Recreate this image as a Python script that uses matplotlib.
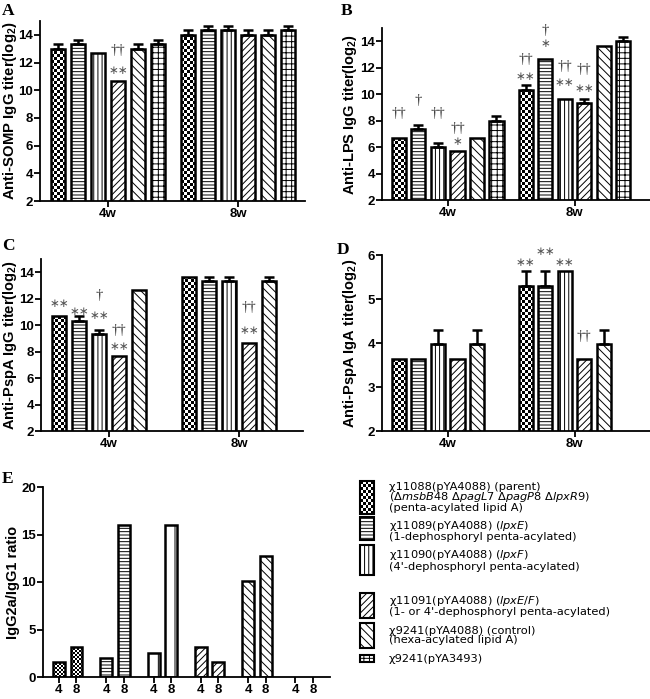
import numpy as np
import matplotlib
matplotlib.use("Agg")
import matplotlib.pyplot as plt
from matplotlib.patches import Rectangle

plt.rcParams.update({
    "font.family": "Liberation Sans",
    "mathtext.fontset": "custom",
    "mathtext.rm": "DejaVu Sans",
    "mathtext.it": "DejaVu Sans:style=oblique",
    "mathtext.bf": "Liberation Sans:weight=bold",
    "hatch.linewidth": 0.7,
    "axes.linewidth": 1.3,
})

# --- data ---
weeks = ["4w", "8w"]
somp_4w = [13.0, 13.33, 12.67, 10.67, 13.0, 13.33]
somp_4w_err = [0.33, 0.33, 0.0, 0.0, 0.33, 0.33]
somp_8w = [14.0, 14.33, 14.33, 14.0, 14.0, 14.33]
somp_8w_err = [0.33, 0.33, 0.33, 0.33, 0.33, 0.33]

lps_4w = [6.67, 7.33, 6.0, 5.67, 6.67, 8.0]
lps_4w_err = [0.0, 0.33, 0.33, 0.0, 0.0, 0.33]
lps_8w = [10.33, 12.67, 9.67, 9.33, 13.67, 14.0]
lps_8w_err = [0.33, 0.0, 0.0, 0.33, 0.0, 0.33]

pspa_4w = [10.67, 10.33, 9.33, 7.67, 12.67]
pspa_4w_err = [0.0, 0.33, 0.33, 0.0, 0.0]
pspa_8w = [13.67, 13.33, 13.33, 8.67, 13.33]
pspa_8w_err = [0.0, 0.33, 0.33, 0.0, 0.33]

iga_4w = [3.63, 3.63, 3.97, 3.63, 3.97]
iga_4w_err = [0.0, 0.0, 0.33, 0.0, 0.33]
iga_8w = [5.3, 5.3, 5.63, 3.63, 3.97]
iga_8w_err = [0.33, 0.33, 0.0, 0.0, 0.33]

ratio_weeks = ["4", "8"]
ratio_4 = [1.6, 2.0, 2.5, 3.2, 10.1, 0.0]
ratio_8 = [3.2, 16.0, 16.0, 1.6, 12.7, 0.0]

# significance marks: (week index, bar index, text, y)
ann_somp = [(0, 3, "∗∗", 11.45), (0, 3, "††", 12.9)]
ann_lps = [(0, 0, "††", 8.55), (0, 1, "†", 9.5), (0, 2, "††", 8.55),
           (0, 3, "††", 7.4), (0, 3, "∗", 6.4),
           (1, 0, "††", 12.6), (1, 0, "∗∗", 11.3), (1, 1, "†", 14.8), (1, 1, "∗", 13.8),
           (1, 2, "††", 12.1), (1, 2, "∗∗", 10.9), (1, 3, "††", 11.9), (1, 3, "∗∗", 10.4)]
ann_pspa = [(0, 0, "∗∗", 11.66), (0, 1, "∗∗", 11.06), (0, 2, "†", 12.26), (0, 2, "∗∗", 10.7),
            (0, 3, "††", 9.6), (0, 3, "∗∗", 8.4), (1, 3, "††", 11.3), (1, 3, "∗∗", 9.6)]
ann_iga = [(1, 0, "∗∗", 5.82), (1, 1, "∗∗", 6.07), (1, 2, "∗∗", 5.82), (1, 3, "††", 4.14)]

legend_labels = [
    "χ11088(pYA4088) (parent)\n"
    "(Δ$\\mathit{msbB48}$ Δ$\\mathit{pagL7}$ Δ$\\mathit{pagP8}$ Δ$\\mathit{lpxR9}$)\n"
    "(penta-acylated lipid A)",
    "χ11089(pYA4088) ($\\mathit{lpxE}$)\n(1-dephosphoryl penta-acylated)",
    "χ11090(pYA4088) ($\\mathit{lpxF}$)\n(4'-dephosphoryl penta-acylated)",
    "χ11091(pYA4088) ($\\mathit{lpxE/F}$)\n(1- or 4'-dephosphoryl penta-acylated)",
    "χ9241(pYA4088) (control)\n(hexa-acylated lipid A)",
    "χ9241(pYA3493)",
]

hatches = [None, "-----", "||||", "/////", "\\\\\\\\", "+++"]
ratio_hatches = [None, "-----", "|", "/////", "\\\\\\\\", "+++"]

W, H = 650, 699
fig = plt.figure(figsize=(W / 100, H / 100), dpi=100)


def px_axes(left, top, right, bottom):
    return fig.add_axes([left / W, 1 - bottom / H, (right - left) / W, (bottom - top) / H])


def checker(ax, bar, cell=3.0):
    x0, y0 = bar.get_x(), bar.get_y()
    x1, y1 = x0 + bar.get_width(), y0 + bar.get_height()
    lo, hi = sorted(ax.get_ylim())
    y0, y1 = max(min(y0, y1), lo), min(max(y0, y1), hi)
    (a, b), (c, d) = ax.transData.transform([(x0, y0), (x1, y1)])
    nx = max(1, int(round(abs(c - a) / cell)))
    ny = max(1, int(round(abs(d - b) / cell)))
    img = np.indices((ny, nx)).sum(axis=0) % 2
    im = ax.imshow(img, cmap="gray", vmin=0, vmax=1, extent=(x0, x1, y0, y1),
                   aspect="auto", interpolation="nearest", zorder=1.5)
    im.set_clip_path(bar)


def style_axes(ax, label_x):
    for s in ("top", "right"):
        ax.spines[s].set_visible(False)
    ax.tick_params(axis="both", width=1.3, length=4, labelsize=9.5, pad=1)
    for t in ax.get_xticklabels() + ax.get_yticklabels():
        t.set_fontweight("bold")
    # right edge of the rotated label, in pixels from the figure's left edge
    x0 = ax.get_position().x0 * W
    ax.yaxis.set_label_coords((label_x - x0) / (ax.get_position().width * W), 0.5)


def titer_panel(ax, groups, ann, ylim, yticks, ylabel, xlim, label_x, label_size=10.5,
                gap=6.5):
    ax.set_xlim(*xlim)
    ax.set_ylim(*ylim)
    for g, (vals, errs) in enumerate(groups):
        xs = np.arange(len(vals)) + g * gap
        bars = ax.bar(xs, vals, width=0.72, facecolor="none", edgecolor="black",
                      linewidth=1.8, zorder=2)
        for i, b in enumerate(bars):
            if hatches[i]:
                b.set_hatch(hatches[i])
            else:
                checker(ax, b)
        errs = np.array(errs)
        m = errs > 0
        ax.errorbar(xs[m], np.array(vals)[m], yerr=[np.zeros(m.sum()), errs[m]], fmt="none",
                    ecolor="black", elinewidth=1.8, capsize=3.5, capthick=1.8, zorder=3)
    for g, i, txt, y in ann:
        if "∗" in txt:
            ax.text(i + g * gap, y, txt, ha="center", va="center", fontsize=8.5,
                    family="DejaVu Sans", color="#555555")
        else:
            ax.text(i + g * gap, y, txt, ha="center", va="center", fontsize=10.5,
                    family="Liberation Serif", color="#333333")
    ax.set_xticks([2.5, 2.5 + gap])
    ax.set_xticklabels(weeks)
    ax.set_yticks(yticks)
    ax.set_ylabel(ylabel, fontsize=label_size, fontweight="bold")
    style_axes(ax, label_x)
    ax.set_xlim(*xlim)
    ax.set_ylim(*ylim)


axA = px_axes(40, 21, 305, 201)
titer_panel(axA, [(somp_4w, somp_4w_err), (somp_8w, somp_8w_err)], ann_somp, (2, 15),
            range(2, 15, 2), "Anti-SOMP IgG titer(log$_\\mathbf{2}$)", (-0.9, 12.35), 19,
            label_size=10.7)

axB = px_axes(382, 28, 650, 200)
titer_panel(axB, [(lps_4w, lps_4w_err), (lps_8w, lps_8w_err)], ann_lps, (2, 15),
            range(2, 15, 2), "Anti-LPS IgG titer(log$_\\mathbf{2}$)", (-0.87, 12.87), 359)

axC = px_axes(41, 259, 303, 431)
titer_panel(axC, [(pspa_4w, pspa_4w_err), (pspa_8w, pspa_8w_err)], ann_pspa, (2, 15),
            range(2, 15, 2), "Anti-PspA IgG titer(log$_\\mathbf{2}$)", (-0.9, 12.2), 19)

axD = px_axes(382, 255, 650, 431)
titer_panel(axD, [(iga_4w, iga_4w_err), (iga_8w, iga_8w_err)], ann_iga, (2, 6),
            range(2, 7), "Anti-PspA IgA titer(log$_\\mathbf{2}$)", (-0.87, 12.87), 359)

# --- panel E ---
axE = px_axes(43, 487, 330, 677)
axE.set_xlim(-0.91, 15.47)
axE.set_ylim(0, 20)
pair_gap = 2.7
ticks, ticklabels = [], []
for k in range(len(ratio_4)):
    xs = np.array([0, 1]) + k * pair_gap
    bars = axE.bar(xs, [ratio_4[k], ratio_8[k]], width=0.68, facecolor="none",
                   edgecolor="black", linewidth=1.8, zorder=2)
    for b in bars:
        if b.get_height() <= 0:
            b.set_visible(False)
        elif ratio_hatches[k]:
            b.set_hatch(ratio_hatches[k])
        else:
            checker(axE, b, cell=2.0)
    ticks += list(xs)
    ticklabels += ratio_weeks
axE.set_xticks(ticks)
axE.set_xticklabels(ticklabels)
axE.set_yticks([0, 5, 10, 15, 20])
axE.set_ylabel("IgG2a/IgG1 ratio", fontsize=10.5, fontweight="bold")
style_axes(axE, 20)
axE.set_xlim(-0.91, 15.47)
axE.set_ylim(0, 20)

# --- panel letters ---
for letter, (x, y) in zip("ABCDE", [(2, 3), (341, 3), (2, 238), (337, 242), (2, 471)]):
    fig.text(x / W, 1 - y / H, letter, ha="left", va="top", fontsize=12.5,
             family="Liberation Serif", fontweight="bold")

# --- legend (drawn in pixel coordinates) ---
lg = px_axes(0, 0, W, H)
lg.set_xlim(0, W)
lg.set_ylim(H, 0)
lg.axis("off")
patch_spans = [(481, 514), (517, 540), (545, 575), (593, 618), (623, 648), (655, 662)]
text_y = [497.5, 530.5, 560, 605.5, 635.5, 658.5]
for i, (lab, (t, b), ty) in enumerate(zip(legend_labels, patch_spans, text_y)):
    r = Rectangle((360, t), 14, b - t, facecolor="none", edgecolor="black", linewidth=1.5,
                  zorder=2)
    lg.add_patch(r)
    if hatches[i]:
        r.set_hatch(hatches[i])
    else:
        checker(lg, r)
    lg.text(389, ty, lab, ha="left", va="center", fontsize=8.2, family="DejaVu Sans",
            linespacing=0.88)
lg.set_xlim(0, W)
lg.set_ylim(H, 0)

fig.savefig("out.png", dpi=100)
